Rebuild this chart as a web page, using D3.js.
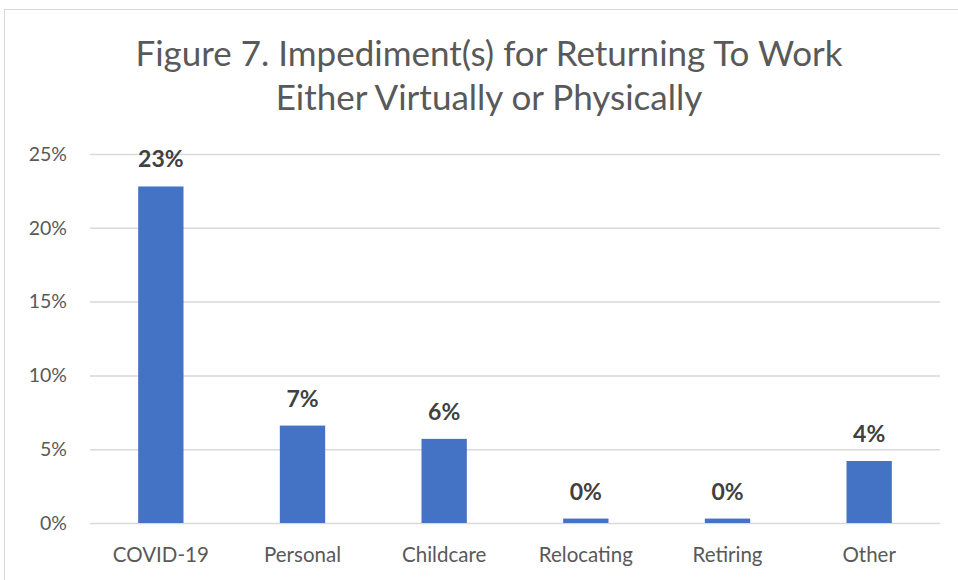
<!DOCTYPE html>
<html>
<head>
<meta charset="utf-8">
<script src="https://cdn.jsdelivr.net/npm/d3@7"></script>
<style>
  body { margin: 0; background: #fff; }
  text { font-family: Lato, "Open Sans", sans-serif; }
</style>
</head>
<body>
<div id="chart"></div>
<script>
"use strict";
// data
const categories = ["COVID-19", "Personal", "Childcare", "Relocating", "Retiring", "Other"]
const values = [0.228, 0.066, 0.057, 0.003, 0.003, 0.042]
const labels = ["23%", "7%", "6%", "0%", "0%", "4%"]
const yTicks = [0, 0.05, 0.10, 0.15, 0.20, 0.25]
const titleLines = ["Figure 7. Impediment(s) for Returning To Work", "Either Virtually or Physically"]

const measurements = {
    width: 958,
    height: 580,
    left: 90,
    right: 940,
    top: 154,
    bottom: 523
}

const svg = d3.select("#chart").append("svg")
    .attr("width", measurements.width)
    .attr("height", measurements.height)

// chart area border
svg.append("rect")
    .attr("x", 4.5)
    .attr("y", 9.5)
    .attr("width", 960)
    .attr("height", 580)
    .attr("fill", "none")
    .attr("stroke", "#d9d9d9")

// title
svg.selectAll(".title")
    .data(titleLines)
    .enter()
    .append("text")
    .attr("x", 489)
    .attr("y", (d, i) => 66 + i * 44)
    .attr("text-anchor", "middle")
    .style("font-size", "35px")
    .style("fill", "#595959")
    .text(d => d)

const scaleX = d3.scaleBand()
    .domain(categories)
    .range([measurements.left, measurements.right])
    .paddingInner(0.68)
    .paddingOuter(0.34)

const scaleY = d3.scaleLinear()
    .domain([0, 0.25])
    .range([measurements.bottom, measurements.top])

// gridlines + y labels
const yAxis = d3.axisLeft(scaleY)
    .tickValues(yTicks)
    .tickFormat(d3.format(".0%"))
    .tickSize(-(measurements.right - measurements.left))
    .tickPadding(23)

const gy = svg.append("g")
    .attr("transform", "translate(" + measurements.left + ",0)")
    .call(yAxis)
gy.select(".domain").remove()
gy.selectAll("line").attr("stroke", "#d9d9d9").attr("stroke-width", 1.5)
gy.selectAll("text")
    .style("font-size", "19.5px")
    .style("fill", "#595959")
    .style("font-family", "Lato, sans-serif")

// x labels
const xAxis = d3.axisBottom(scaleX).tickSize(0).tickPadding(24)
const gx = svg.append("g")
    .attr("transform", "translate(0," + measurements.bottom + ")")
    .call(xAxis)
gx.select(".domain").remove()
gx.selectAll("text")
    .style("font-size", "20.5px")
    .style("fill", "#595959")
    .style("font-family", "Lato, sans-serif")
    .attr("dy", "0.71em")

// bars
svg.selectAll(".bar")
    .data(values)
    .enter()
    .append("rect")
    .attr("class", "bar")
    .attr("x", (d, i) => scaleX(categories[i]))
    .attr("y", d => scaleY(d))
    .attr("width", scaleX.bandwidth())
    .attr("height", d => scaleY(0) - scaleY(d))
    .attr("fill", "#4472c4")

// data labels
svg.selectAll(".label")
    .data(values)
    .enter()
    .append("text")
    .attr("x", (d, i) => scaleX(categories[i]) + scaleX.bandwidth() / 2)
    .attr("y", d => scaleY(d) - 19)
    .attr("text-anchor", "middle")
    .style("font-size", "23px")
    .style("font-weight", "bold")
    .style("fill", "#404040")
    .text((d, i) => labels[i])
</script>
</body>
</html>
